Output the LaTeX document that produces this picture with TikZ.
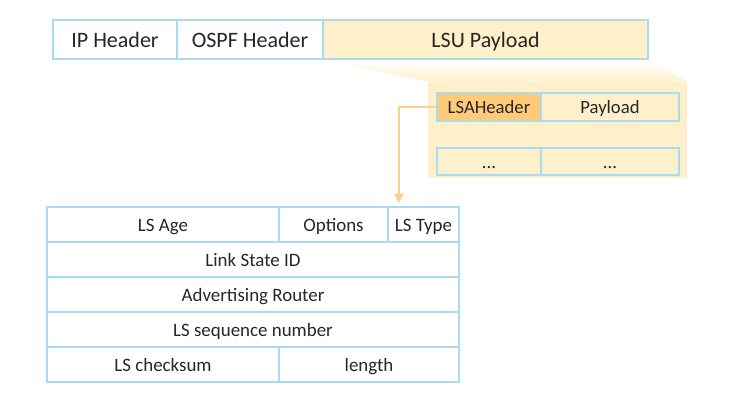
\documentclass[tikz,border=0pt]{standalone}
\usepackage{fontspec}
\setmainfont{Carlito}
\usetikzlibrary{arrows.meta,calc,positioning}
\definecolor{cellline}{HTML}{A9DCF0}
\definecolor{lsufill}{HTML}{FFF0CC}
\definecolor{hdrfill}{HTML}{FFCB78}
\definecolor{arrowc}{HTML}{FFD08A}
\definecolor{txt}{HTML}{262626}
\tikzset{
  cell/.style={draw=cellline,line width=1.5pt,rectangle,inner sep=0pt,text=txt,align=center},
  topcell/.style={cell,minimum height=29.25pt,font=\fontsize{16.5}{20}\selectfont,
    text height=15.7pt,text depth=3.8pt},
  lsacell/.style={cell,minimum height=26.25pt,font=\fontsize{14.2}{17}\selectfont,
    text height=13.5pt,text depth=3.3pt},
  subcell/.style={cell,minimum height=21pt,font=\fontsize{14}{17}\selectfont,
    text height=13.3pt,text depth=3.2pt}
}
\begin{document}
\begin{tikzpicture}[x=0.75pt,y=-0.75pt]
  \useasboundingbox (0,0) rectangle (743,402);
  % packet
  \node[topcell,minimum width=93pt] (ip) at (115,39.5) {IP Header};
  \node[topcell,minimum width=109.5pt] (ospf) at (250,39.5) {OSPF Header};
  \node[topcell,minimum width=243.75pt,fill=lsufill] (lsu) at (485.5,39.5) {LSU Payload};
  % zoom panel
  \node[fill=lsufill,inner sep=0pt,minimum width=194.25pt,minimum height=72pt] (panel) at (557.5,130) {};
  \shade[top color=white,bottom color=lsufill]
    (lsu.south west) -- (lsu.south east) -- (panel.north east) -- (panel.north west) -- cycle;
  \node[topcell,minimum width=243.75pt,fill=lsufill] at (lsu) {LSU Payload};
  \node[subcell,minimum width=78pt,fill=hdrfill] (lsah) at (489,107) {LSAHeader};
  \node[subcell,minimum width=103.5pt] (pay) at (610,107) {Payload};
  \node[subcell,minimum width=78pt,minimum height=20.25pt] (dots1) at (489,161.5) {...};
  \node[subcell,minimum width=103.5pt,minimum height=20.25pt] (dots2) at (610,161.5) {...};
  % LSA header
  \node[lsacell,minimum width=174pt] (age) at (163,224.5) {LS Age};
  \node[lsacell,minimum width=81.75pt] (opt) at (333.5,224.5) {Options};
  \node[lsacell,minimum width=53.25pt] (type) at (423.5,224.5) {LS Type};
  \node[lsacell,minimum width=309pt] (lsid) at (253,259.5) {Link State ID};
  \node[lsacell,minimum width=309pt] (adv) at (253,294.5) {Advertising Router};
  \node[lsacell,minimum width=309pt] (seq) at (253,329.5) {LS sequence number};
  \node[lsacell,minimum width=174pt] (csum) at (163,364.5) {LS checksum};
  \node[lsacell,minimum width=135pt] (len) at (369,364.5) {length};
  \coordinate (tip) at (399,203);
  \draw[arrowc,line width=1pt,-{Triangle[width=7pt,length=7pt]}] (lsah.west) -| (tip);
\end{tikzpicture}
\end{document}
